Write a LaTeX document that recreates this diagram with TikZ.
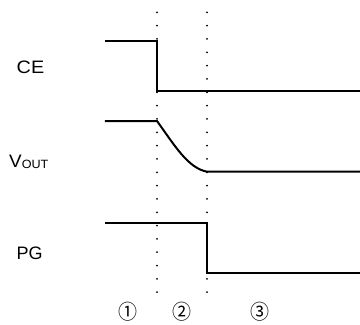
\documentclass[tikz,border=0pt]{standalone}
\usepackage{fontspec}
\setmainfont{Liberation Sans}
\newfontfamily\circfont{Noto Sans CJK JP}
\usepackage{tikz}

\begin{document}
\begin{tikzpicture}[x=1pt,y=-1pt,
		signal/.style={line width=2pt, line join=miter},
		guide/.style={line width=2pt, line cap=round, dash pattern=on 0pt off 13.33pt},
		lbl/.style={font=\fontsize{18}{21}\selectfont, anchor=west, inner sep=0pt},
		phase/.style={font=\circfont\fontsize{19}{22}\selectfont, inner sep=0pt, yscale=1.08}]
	
	\useasboundingbox (0,0) rectangle (360,325);
	
	% time marks
	\draw[guide] (157,12.3) -- (157,292.3);
	\draw[guide] (207,12.3) -- (207,292.3);
	
	% CE
	\node[lbl, xscale=1.1] (ce) at (16.5,67.5) {CE};
	\draw[signal] (105,41) -- (157,41) -- (157,90.5) -- (360,90.5);
	
	% VOUT
	\node[lbl, xscale=1.05] (vout) at (9,162) {V\raisebox{-0.3pt}{\fontsize{12}{14}\selectfont OUT}};
	\draw[signal] (105,121) -- (157,121) .. controls (175,146) and (188,168) .. (207,171.7) -- (360,171.7);
	
	% PG
	\node[lbl] (pg) at (16.5,253.5) {PG};
	\draw[signal] (105,222.7) -- (207,222.7) -- (207,272.7) -- (360,272.7);
	
	% phases
	\node[phase] (p1) at (128,311.5) {①};
	\node[phase] (p2) at (181.5,311.5) {②};
	\node[phase] (p3) at (260,311.5) {③};
\end{tikzpicture}
\end{document}
